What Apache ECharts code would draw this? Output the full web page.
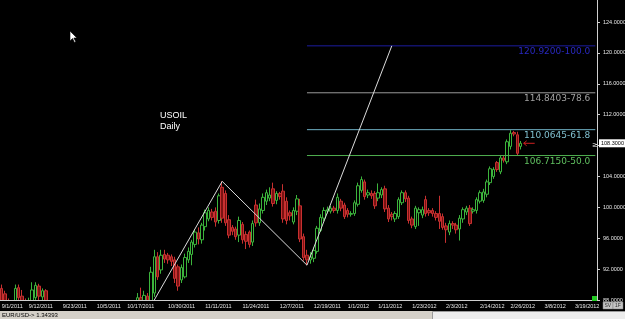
<!DOCTYPE html>
<html><head><meta charset="utf-8">
<script src="https://cdn.jsdelivr.net/npm/echarts@6/dist/echarts.min.js"></script>
<style>html,body{margin:0;padding:0;background:#000;overflow:hidden}#c{width:625px;height:319px}</style>
</head><body><div id="c"></div><script>
// ---- data ----
const slotCount = 176; // bar slots on the time axis (incl. empty future slots)
const tickLabels = [[0,'9/1/2011'],[8,'9/12/2011'],[18,'9/23/2011'],[28,'10/5/2011'],[37,'10/17/2011'],[49,'10/30/2011'],[60,'11/11/2011'],[71,'11/24/2011'],[82,'12/7/2011'],[92,'12/19/2011'],[102,'1/1/2012'],[111,'1/11/2012'],[121,'1/23/2012'],[131,'2/3/2012'],[141,'2/14/2012'],[150,'2/26/2012'],[160,'3/8/2012'],[169,'3/19/2012']];
// [open, close, low, high]
const candles = [
[89.5,87.5,86.8,90.0],[88.8,87.9,87.2,89.2],[87.5,86.9,86.3,88.2],[86.9,87.6,86.4,88.0],[87.5,89.5,87.2,90.0],
[89.6,88.3,87.9,90.0],[88.5,87.3,86.8,89.3],[87.4,86.2,85.8,88.2],[86.3,87.8,85.9,88.3],[87.7,89.3,87.3,90.3],
[88.3,89.9,88.0,90.3],[89.8,88.5,88.0,90.1],[88.4,89.2,88.0,89.5],[89.2,87.5,87.0,89.4],[87.6,86.3,85.9,87.9],
[86.4,85.1,84.8,86.8],[85.2,84.6,84.1,85.8],[84.6,82.9,82.5,85.1],[82.8,80.4,79.9,83.2],[80.4,80.8,79.6,81.5],
[80.9,79.6,79.1,81.4],[79.5,80.9,78.9,81.6],[80.8,81.6,80.2,82.3],[81.5,82.9,81.1,83.5],[82.9,81.7,81.2,83.2],
[81.6,79.4,78.8,82.0],[79.3,79.9,78.6,80.5],[79.8,77.9,77.4,80.2],[77.8,76.2,74.96,78.1],[76.1,79.1,75.4,79.5],
[79.1,80.2,78.5,80.9],[80.3,82.6,80.0,83.1],[82.5,82.9,81.8,83.5],[82.9,85.4,82.5,85.9],[85.3,85.8,84.6,86.4],
[85.7,84.9,84.3,86.2],[84.9,84.3,83.7,85.5],[84.3,86.8,84.0,87.3],[86.7,86.4,85.6,87.5],[86.3,85.9,85.3,87.1],
[85.9,88.3,85.4,88.9],[88.3,86.7,86.2,89.6],[86.8,88.6,86.4,89.2],[88.5,87.9,87.3,88.9],[87.8,91.6,87.3,92.3],
[88.9,93.6,88.4,94.5],[93.6,91.0,90.6,94.2],[91.9,93.8,91.4,94.5],[93.9,93.3,92.8,94.5],[93.8,93.2,92.7,94.1],
[93.6,93.0,92.4,93.9],[93.2,90.8,90.2,93.6],[92.3,89.8,89.2,92.6],[90.6,92.2,90.2,92.6],[91.0,93.5,90.8,94.0],
[93.2,94.3,92.8,94.8],[93.9,95.5,92.5,95.8],[95.2,96.8,94.8,97.2],[96.7,95.9,95.2,97.4],[95.8,97.7,95.3,98.0],
[97.5,99.3,97.0,99.7],[98.5,99.6,98.2,100.0],[99.4,98.7,98.3,99.8],[99.5,98.1,97.5,100.0],[98.3,101.5,97.9,101.8],
[102.6,98.6,98.0,103.37],[101.8,98.0,97.6,102.2],[98.4,96.4,96.0,99.0],[97.4,96.9,96.4,97.7],[97.2,96.2,95.8,97.5],
[96.4,98.3,95.5,98.8],[97.8,95.8,95.3,98.1],[96.5,95.6,94.6,96.9],[96.8,95.2,94.8,97.0],[95.5,97.9,95.0,98.3],
[100.3,98.0,97.5,101.0],[98.0,99.8,97.6,100.5],[99.6,101.3,99.2,101.8],[100.8,101.9,100.3,102.3],[101.2,101.6,100.8,102.6],
[102.4,100.5,100.1,103.2],[100.9,101.8,100.4,102.1],[101.8,101.4,101.0,102.0],[102.1,98.5,98.0,103.0],[100.8,98.3,97.8,101.3],
[99.3,98.9,98.3,99.6],[98.1,99.6,97.8,100.0],[99.5,101.1,99.0,101.6],[100.2,95.9,95.5,101.1],[96.2,93.5,93.1,96.6],
[93.8,93.2,92.51,94.5],[93.2,93.6,92.7,94.2],[93.4,94.4,92.9,94.8],[94.3,97.3,94.0,97.6],[97.0,98.7,96.8,99.1],
[98.6,99.6,98.2,100.0],[99.5,99.7,99.2,100.1],[99.5,99.9,99.2,100.2],[99.9,99.6,99.3,100.2],[99.6,101.3,99.2,101.8],
[100.8,99.9,99.5,101.1],[100.3,98.8,98.5,100.6],[99.6,99.1,98.7,99.9],[99.1,99.2,98.8,99.5],[99.2,100.6,98.9,100.9],
[100.4,102.8,100.1,103.2],[102.2,103.6,101.9,104.0],[103.3,101.4,101.0,103.6],[101.6,101.9,101.2,102.3],[101.8,101.5,101.1,102.2],
[101.8,100.2,99.8,102.1],[101.2,101.9,100.8,103.1],[101.6,102.3,101.2,102.6],[102.4,99.8,99.4,102.8],[99.9,98.5,98.1,100.3],
[99.1,98.8,98.3,99.4],[98.5,99.2,98.1,99.5],[98.8,101.0,98.5,101.3],[100.6,101.9,100.3,102.2],[101.9,101.1,100.7,102.2],
[101.2,98.3,97.9,101.5],[98.5,97.7,97.3,98.8],[97.5,99.9,97.2,100.2],[99.3,99.7,97.6,100.0],[99.0,99.7,98.6,100.1],
[101.0,99.2,98.8,101.5],[99.6,99.3,98.9,99.9],[99.6,99.2,98.8,99.9],[99.2,98.7,98.3,99.5],[99.2,98.2,97.2,101.5],
[98.8,97.4,97.1,99.2],[97.6,97.1,95.4,98.0],[96.8,97.9,96.4,98.3],[97.9,97.7,97.2,98.2],[97.7,97.1,96.6,98.0],
[97.2,98.6,95.7,99.0],[98.5,99.7,98.0,100.0],[99.4,99.9,99.0,100.2],[99.9,97.9,97.6,100.3],[99.5,99.7,99.2,100.0],
[99.6,101.0,99.2,101.3],[100.8,101.9,100.5,102.2],[100.9,102.0,100.6,102.4],[101.7,103.3,101.3,103.6],[103.2,105.0,102.9,105.3],
[104.0,104.9,103.7,105.2],[105.8,104.9,104.6,106.0],[104.6,106.4,104.3,106.7],[106.4,106.1,105.8,106.7],[105.9,108.5,105.6,108.8],
[107.9,109.6,107.5,110.0],[109.7,109.5,109.2,109.9],[109.4,107.0,106.7,109.8],[107.9,108.3,107.5,108.6]
];
const zigzag = [[28,74.96],[65,103.37],[90,92.51],[115,120.92]]; // [bar index, price]
const fibStartBar = 90;
const fibValues = [120.92, 114.8403, 110.0645, 106.715];
const fibLabels = ['120.9200-100.0','114.8403-78.6','110.0645-61.8','106.7150-50.0'];
const fibLineColors = ['#1c1ca0','#9a9a9a','#6fb0c4','#4fae4f'];
const fibTextColors = ['#2828c0','#a0a0a0','#80c0d0','#60c060'];
const lastPrice = 108.3;
const yMin = 88, yMax = 126.86, yStep = 4;
const title = ['USOIL','Daily'];
const statusText = 'EUR/USD-> 1.34393';

// ---- chart ----
const chart = echarts.init(document.getElementById('c'), null, {renderer:'canvas'});
const cats = Array.from({length: slotCount}, (_, i) => String(i));
const labelMap = {};
tickLabels.forEach(([i, t]) => { labelMap[i] = t; });

const fibSeries = fibValues.map((v, k) => ({
  type:'line', symbol:'none', silent:true, z:3,
  lineStyle:{color:fibLineColors[k], width:1, type:'solid'},
  endLabel:{show:true, formatter:fibLabels[k], color:fibTextColors[k], fontSize:9, fontFamily:'DejaVu Sans',
            align:'right', verticalAlign:'top', distance:0, offset:[-5, 1.5]},
  data:[[fibStartBar, v], [slotCount-1, v]]
}));

chart.setOption({
  backgroundColor:'#000000',
  animation:false,
  grid:{left:0, top:0, right:28, bottom:19, containLabel:false, outerBoundsMode:'none'},
  xAxis:{type:'category', data:cats, boundaryGap:true, z:10,
    axisLine:{lineStyle:{color:'#cfcfcf', width:1}},
    axisTick:{show:false},
    axisLabel:{interval:(i)=>labelMap[i]!==undefined, formatter:(v,i)=>labelMap[i]||'',
      color:'#e6e6e6', fontSize:5.5, fontFamily:'Liberation Sans', align:'left', margin:3},
    splitLine:{show:false}},
  yAxis:{type:'value', position:'right', min:yMin, max:yMax, interval:yStep, z:10,
    axisLine:{show:true, lineStyle:{color:'#cfcfcf', width:1}},
    axisTick:{show:true, length:3, lineStyle:{color:'#cfcfcf'}},
    axisLabel:{formatter:(v)=>v.toFixed(4), color:'#e6e6e6', fontSize:5.5, fontFamily:'Liberation Sans', margin:6, showMaxLabel:false},
    splitLine:{show:false}},
  series:[
    {type:'candlestick', data:candles, barWidth:3, clip:true, z:2,
     itemStyle:{color:'#000000', color0:'#7a1212', borderColor:'#3cb43c', borderColor0:'#c83030', borderWidth:1}},
    {type:'line', data:zigzag, symbol:'none', clip:true, lineStyle:{color:'#dcdcdc', width:1}, z:4, silent:true}
  ].concat(fibSeries)
});

const yLast = chart.convertToPixel({yAxisIndex:0}, lastPrice);
const xLast = chart.convertToPixel({xAxisIndex:0}, candles.length-1);
const yBase = chart.convertToPixel({yAxisIndex:0}, yMin);
chart.setOption({graphic:[
  // mask below the plot area (candles are clipped at the axis)
  {type:'rect', z:5, shape:{x:0, y:yBase+0.5, width:625, height:319-yBase}, style:{fill:'#000000'}},
  {type:'text', z:11, left:160, top:110, style:{text:title.join('\n'), fill:'#ffffff', font:'9px "Liberation Sans"', lineHeight:11}},
  {type:'polygon', z:11, shape:{points:[[70,31],[70,41],[72.5,38.5],[74.5,42.5],[75.8,41.8],[73.8,38],[77,38]]}, style:{fill:'#ffffff', stroke:'#000000', lineWidth:0.6}},
  {type:'rect', z:11, shape:{x:599, y:yLast-4, width:26, height:8}, style:{fill:'#ffffff'}},
  {type:'text', z:12, x:601, y:yLast, style:{text:lastPrice.toFixed(4), fill:'#000000', font:'5.5px "Liberation Sans"', verticalAlign:'middle'}},
  {type:'polyline', z:11, shape:{points:[[xLast+14,yLast],[xLast+3,yLast]]}, style:{stroke:'#d02020', lineWidth:1}},
  {type:'polyline', z:11, shape:{points:[[xLast+6,yLast-2.5],[xLast+3,yLast],[xLast+6,yLast+2.5]]}, style:{stroke:'#d02020', lineWidth:1, fill:null}},
  {type:'text', z:11, x:592, y:yLast+2, style:{text:'≥', fill:'#ffffff', font:'7px "DejaVu Sans"', verticalAlign:'middle'}},
  {type:'rect', z:11, shape:{x:592, y:296, width:5, height:5}, style:{fill:'#22cc22'}},
  {type:'rect', z:11, shape:{x:603, y:302, width:10, height:7}, style:{fill:'#c4c4c4', stroke:'#808080', lineWidth:0.5}},
  {type:'rect', z:11, shape:{x:613, y:302, width:10, height:7}, style:{fill:'#c4c4c4', stroke:'#808080', lineWidth:0.5}},
  {type:'text', z:12, x:604.5, y:305.5, style:{text:'SV', fill:'#303030', font:'5px "Liberation Sans"', verticalAlign:'middle'}},
  {type:'text', z:12, x:615, y:305.5, style:{text:'1F', fill:'#303030', font:'5px "Liberation Sans"', verticalAlign:'middle'}},
  {type:'rect', z:11, shape:{x:0, y:311, width:625, height:8}, style:{fill:'#d4d0c8'}},
  {type:'rect', z:11, shape:{x:432.5, y:311.5, width:193, height:8}, style:{fill:'#ececec', stroke:'#9a9a9a', lineWidth:1}},
  {type:'text', z:12, x:2, y:315.5, style:{text:statusText, fill:'#000000', font:'6px "Liberation Sans"', verticalAlign:'middle'}}
]});
</script></body></html>
